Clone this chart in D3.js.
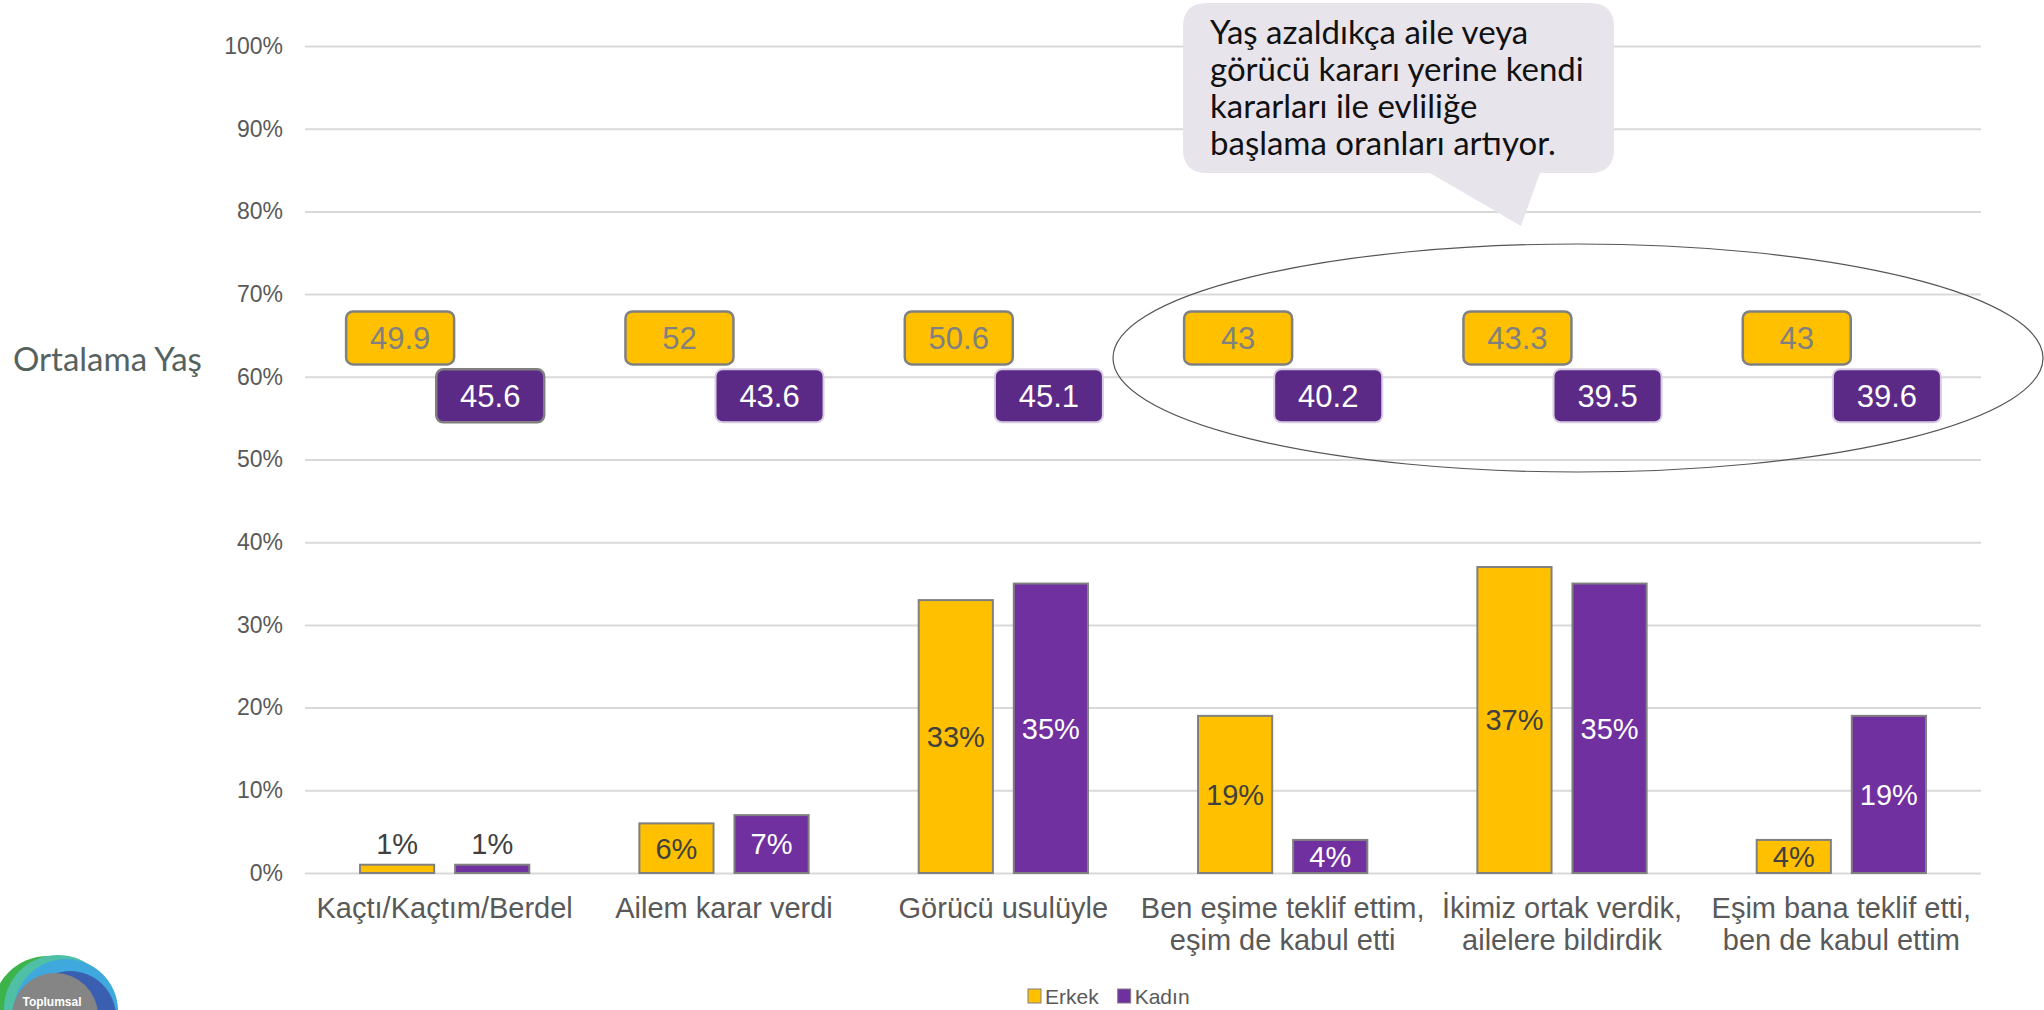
<!DOCTYPE html>
<html>
<head>
<meta charset="utf-8">
<script src="https://cdn.jsdelivr.net/npm/d3@7"></script>
<style>
  body { margin: 0; background: #fff; }
  svg { display: block; }
</style>
</head>
<body>
<div id="wrapper"></div>
<script>
// Data
const categories = [
    "Kaçtı/Kaçtım/Berdel",
    "Ailem karar verdi",
    "Görücü usulüyle",
    "Ben eşime teklif ettim,\neşim de kabul etti",
    "İkimiz ortak verdik,\nailelere bildirdik",
    "Eşim bana teklif etti,\nben de kabul ettim"
];
const seriesNames = ["Erkek", "Kadın"];
const erkekPct = [1, 6, 33, 19, 37, 4];
const kadinPct = [1, 7, 35, 4, 35, 19];
const erkekAge = [49.9, 52, 50.6, 43, 43.3, 43];
const kadinAge = [45.6, 43.6, 45.1, 40.2, 39.5, 39.6];
const yTicks = [0, 10, 20, 30, 40, 50, 60, 70, 80, 90, 100];
const noteLines = [
    "Yaş azaldıkça aile veya",
    "görücü kararı yerine kendi",
    "kararları ile evliliğe",
    "başlama oranları artıyor."
];
const sideLabel = "Ortalama Yaş";

const colors = { Erkek: "#FFC000", Kadın: "#7030A0" };

function drawChart() {
    // 1. dimensions
    let dimensions = {
        width: 2044,
        height: 1010,
        margin: { top: 46, right: 63, bottom: 137, left: 305 }
    };
    dimensions.boundedWidth = dimensions.width - dimensions.margin.left - dimensions.margin.right;
    dimensions.boundedHeight = dimensions.height - dimensions.margin.top - dimensions.margin.bottom;

    const rows = categories.map((c, i) => ({
        category: c,
        values: [
            { key: "Erkek", pct: erkekPct[i], age: erkekAge[i] },
            { key: "Kadın", pct: kadinPct[i], age: kadinAge[i] }
        ]
    }));

    // 2. canvas
    const wrapper = d3.select("#wrapper")
        .append("svg")
        .attr("width", dimensions.width)
        .attr("height", dimensions.height)
        .style("font-family", "'Liberation Sans', Arial, sans-serif");

    wrapper.append("rect")
        .attr("width", dimensions.width)
        .attr("height", dimensions.height)
        .attr("fill", "#fff");

    const bounds = wrapper.append("g")
        .attr("transform", `translate(${dimensions.margin.left}, ${dimensions.margin.top})`);

    // 3. scales
    const x0 = d3.scaleBand()
        .domain(categories)
        .range([0, dimensions.boundedWidth])
        .paddingInner(0.394)
        .paddingOuter(0.197);

    const x1 = d3.scaleBand()
        .domain(seriesNames)
        .range([0, x0.bandwidth()])
        .paddingInner(0.22);

    const yScale = d3.scaleLinear()
        .domain([0, 100])
        .range([dimensions.boundedHeight, 0]);

    // 4. y axis + gridlines
    const yAxisGenerator = d3.axisLeft(yScale)
        .tickValues(yTicks)
        .tickSize(-dimensions.boundedWidth)
        .tickPadding(22)
        .tickFormat(d => d + "%");

    const yAxis = bounds.append("g").call(yAxisGenerator);
    yAxis.select(".domain").remove();
    yAxis.selectAll(".tick line")
        .attr("stroke", "#d9d9d9")
        .attr("stroke-width", 2);
    yAxis.selectAll(".tick text")
        .attr("fill", "#595959")
        .style("font-size", "23px")
        .style("font-family", "'Liberation Sans', Arial, sans-serif");

    // 5. bars
    const groups = bounds.selectAll(".group")
        .data(rows)
        .enter().append("g")
        .attr("class", "group")
        .attr("transform", d => `translate(${x0(d.category)}, 0)`);

    groups.selectAll("rect")
        .data(d => d.values)
        .enter().append("rect")
        .attr("x", d => x1(d.key))
        .attr("y", d => yScale(d.pct))
        .attr("width", x1.bandwidth())
        .attr("height", d => yScale(0) - yScale(d.pct))
        .attr("fill", d => colors[d.key])
        .attr("stroke", "#808080")
        .attr("stroke-width", 2);

    // bar labels (centered; small bars get the label above)
    groups.selectAll(".bar-label")
        .data(d => d.values)
        .enter().append("text")
        .attr("class", "bar-label")
        .attr("x", d => x1(d.key) + x1.bandwidth() / 2)
        .attr("y", d => d.pct < 3
            ? yScale(0) - 29
            : (yScale(d.pct) + yScale(0)) / 2)
        .attr("dy", "0.36em")
        .attr("text-anchor", "middle")
        .style("font-size", "29px")
        .attr("fill", d => (d.key === "Kadın" && d.pct >= 3) ? "#ffffff" : "#404040")
        .text(d => d.pct + "%");

    // 6. average age boxes
    const boxW = 108, boxH = 53;
    const boxLevel = { Erkek: 64.7, Kadın: 57.7 };

    const ageBoxes = groups.selectAll(".age")
        .data((d, i) => d.values.map(v => ({ ...v, idx: i })))
        .enter().append("g")
        .attr("class", "age")
        .attr("transform", d => `translate(${x1(d.key) + x1.bandwidth() / 2 + (d.key === "Erkek" ? 3 : -2)}, ${yScale(boxLevel[d.key])})`);

    ageBoxes.append("rect")
        .attr("x", -boxW / 2)
        .attr("y", -boxH / 2)
        .attr("width", boxW)
        .attr("height", boxH)
        .attr("rx", 7)
        .attr("fill", d => d.key === "Erkek" ? "#FFC000" : "#5B2A86")
        .attr("stroke", d => (d.key === "Erkek" || d.idx === 0) ? "#808080" : "#d8cbe4")
        .attr("stroke-width", d => (d.key === "Erkek" || d.idx === 0) ? 2.5 : 2);

    ageBoxes.append("text")
        .attr("text-anchor", "middle")
        .attr("dy", "0.36em")
        .style("font-size", "31px")
        .attr("fill", d => d.key === "Erkek" ? "#808080" : "#ffffff")
        .text(d => d.age);

    // 7. category labels
    const xAxisGenerator = d3.axisBottom(x0).tickSize(0).tickPadding(0);
    const xAxis = bounds.append("g")
        .attr("transform", `translate(0, ${dimensions.boundedHeight})`)
        .call(xAxisGenerator);
    xAxis.select(".domain").remove();
    xAxis.selectAll(".tick text").each(function(d) {
        const t = d3.select(this);
        t.text(null)
            .attr("y", 0)
            .attr("dy", null)
            .attr("fill", "#595959")
            .style("font-size", "29px")
            .style("font-family", "'Liberation Sans', Arial, sans-serif");
        d.split("\n").forEach((line, i) => {
            t.append("tspan")
                .attr("x", 0)
                .attr("y", 45 + i * 32)
                .text(line);
        });
    });

    // 8. ellipse highlighting the last three groups
    wrapper.append("ellipse")
        .attr("cx", 1578)
        .attr("cy", 358)
        .attr("rx", 465)
        .attr("ry", 114)
        .attr("fill", "none")
        .attr("stroke", "#555")
        .attr("stroke-width", 1.2);

    // 9. speech-bubble note
    const bx = 1183, by = 3, bw = 431, bh = 170, r = 24;
    const bubblePath = [
        `M${bx + r},${by}`,
        `H${bx + bw - r}`,
        `Q${bx + bw},${by} ${bx + bw},${by + r}`,
        `V${by + bh - r}`,
        `Q${bx + bw},${by + bh} ${bx + bw - r},${by + bh}`,
        `H1540`,
        `L1521,226`,
        `L1430,${by + bh}`,
        `H${bx + r}`,
        `Q${bx},${by + bh} ${bx},${by + bh - r}`,
        `V${by + r}`,
        `Q${bx},${by} ${bx + r},${by}`,
        "Z"
    ].join(" ");

    wrapper.append("path")
        .attr("d", bubblePath)
        .attr("fill", "#e8e4eb");

    wrapper.append("g")
        .selectAll("text")
        .data(noteLines)
        .enter().append("text")
        .attr("x", 1210)
        .attr("y", (d, i) => 44 + i * 37)
        .attr("fill", "#111")
        .style("font-family", "Lato, 'Open Sans', sans-serif")
        .style("font-size", "33px")
        .text(d => d);

    // 10. side label
    wrapper.append("text")
        .attr("x", 13)
        .attr("y", 371)
        .attr("fill", "#56625f")
        .style("font-family", "Lato, 'Open Sans', sans-serif")
        .style("font-size", "33px")
        .text(sideLabel);

    // 11. legend
    const legend = wrapper.append("g")
        .attr("transform", "translate(1028, 996)");
    let lx = 0;
    seriesNames.forEach(name => {
        legend.append("rect")
            .attr("x", lx)
            .attr("y", -7)
            .attr("width", 13)
            .attr("height", 14)
            .attr("fill", colors[name])
            .attr("stroke", "#808080")
            .attr("stroke-width", 1);
        const t = legend.append("text")
            .attr("x", lx + 17)
            .attr("dy", "0.36em")
            .attr("fill", "#595959")
            .style("font-size", "21px")
            .text(name);
        lx += 17 + t.node().getComputedTextLength() + 19;
    });

    // 12. logo in the corner (partially visible)
    const logo = wrapper.append("g");
    const arcs = [
        { cx: 48, cy: 1012, r: 56, c: "#3cb44b" },
        { cx: 58, cy: 1009, r: 54, c: "#4fc0a6" },
        { cx: 66, cy: 1011, r: 52, c: "#3fa8dc" },
        { cx: 70, cy: 1017, r: 46, c: "#3b5fb0" },
        { cx: 55, cy: 1016, r: 43, c: "#858585" }
    ];
    logo.selectAll("circle")
        .data(arcs)
        .enter().append("circle")
        .attr("cx", d => d.cx)
        .attr("cy", d => d.cy)
        .attr("r", d => d.r)
        .attr("fill", d => d.c);
    logo.append("text")
        .attr("x", 52)
        .attr("y", 1006)
        .attr("text-anchor", "middle")
        .attr("fill", "#fff")
        .style("font-size", "12px")
        .style("font-weight", "bold")
        .text("Toplumsal");
}

drawChart();
</script>
</body>
</html>
